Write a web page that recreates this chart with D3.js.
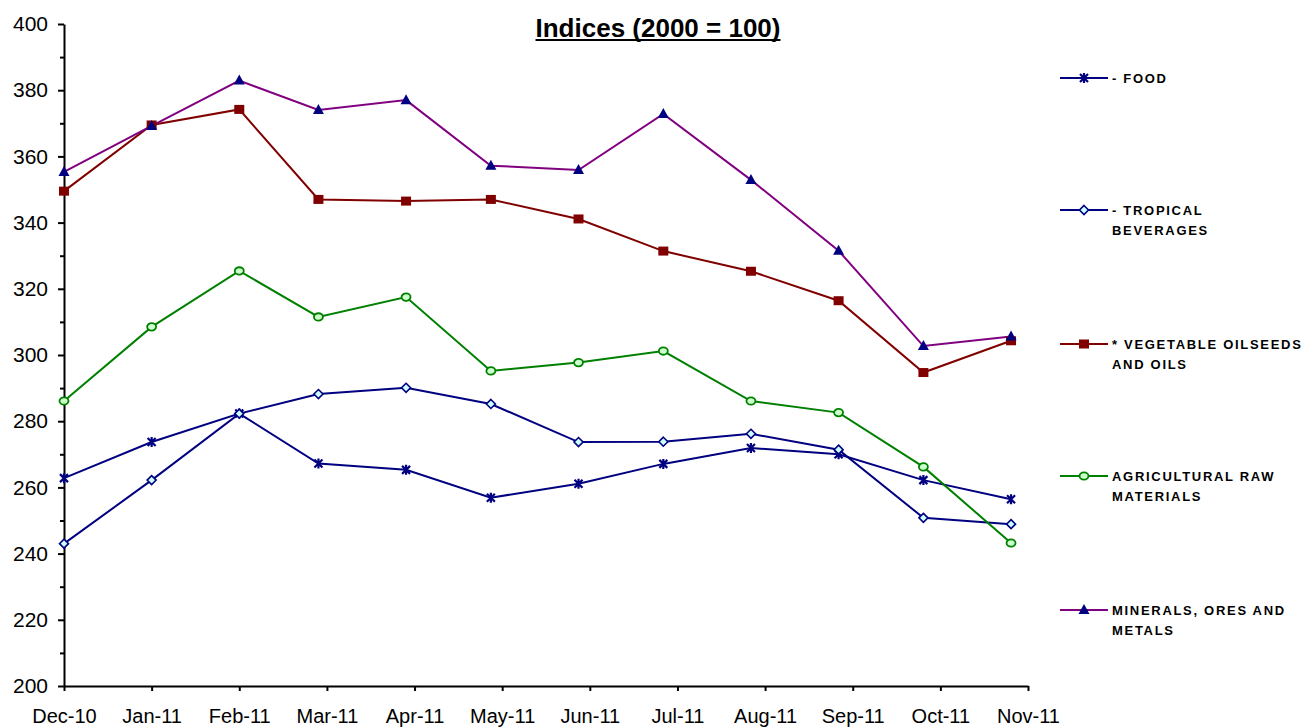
<!DOCTYPE html>
<html>
<head>
<meta charset="utf-8">
<script src="https://cdn.jsdelivr.net/npm/d3@7"></script>
<style>
  body { margin: 0; background: #fff; }
  text { font-family: Arial, "Liberation Sans", sans-serif; }
</style>
</head>
<body>
<script>
// monthly observations (first day of each month)
const months = ["2010-12-01", "2011-01-01", "2011-02-01", "2011-03-01", "2011-04-01", "2011-05-01",
  "2011-06-01", "2011-07-01", "2011-08-01", "2011-09-01", "2011-10-01", "2011-11-01"];

// axis labels, one every 31 days from Dec-10
const tickLabels = ["Dec-10", "Jan-11", "Feb-11", "Mar-11", "Apr-11", "May-11",
  "Jun-11", "Jul-11", "Aug-11", "Sep-11", "Oct-11", "Nov-11"];

const food      = [262.8, 273.7, 282.3, 267.2, 265.3, 256.9, 261.1, 267.1, 271.9, 270.0, 262.2, 256.4];
const tropical  = [243.0, 262.2, 282.3, 288.2, 290.1, 285.2, 273.7, 273.8, 276.2, 271.4, 250.8, 248.9];
const vegOils   = [349.5, 369.5, 374.2, 347.0, 346.5, 347.0, 341.1, 331.4, 325.3, 316.4, 294.7, 304.3];
const agriRaw   = [286.1, 308.5, 325.4, 311.5, 317.5, 295.2, 297.7, 301.2, 286.1, 282.6, 266.2, 243.2];
const minerals  = [355.3, 369.2, 382.9, 374.0, 377.0, 357.2, 355.9, 372.8, 352.9, 331.5, 302.7, 305.6];

const seriesNames = [["- FOOD"], ["- TROPICAL", "BEVERAGES"], ["* VEGETABLE OILSEEDS", "AND OILS"],
  ["AGRICULTURAL RAW", "MATERIALS"], ["MINERALS, ORES AND", "METALS"]];

const width = 1306, height = 728;
const margin = { top: 24, bottom: 42, left: 64, right: 278 };

const parseDate = d3.utcParse("%Y-%m-%d");
const dates = months.map(parseDate);
const start = dates[0];
const tickDates = d3.range(tickLabels.length).map(i => d3.utcDay.offset(start, 31 * i));

const escalaX = d3.scaleUtc()
  .domain([start, tickDates[tickDates.length - 1]])
  .range([margin.left, width - margin.right]);
const escalaY = d3.scaleLinear()
  .domain([200, 400])
  .range([height - margin.bottom, margin.top]);

const svg = d3.select("body")
  .append("svg")
  .attr("width", width)
  .attr("height", height);

// title
const titulo = svg.append("text")
  .attr("x", 658)
  .attr("y", 37)
  .attr("text-anchor", "middle")
  .attr("font-size", 26)
  .attr("font-weight", "bold")
  .text("Indices (2000 = 100)");
const tw = titulo.node().getComputedTextLength();
svg.append("line")
  .attr("x1", 658 - tw / 2).attr("x2", 658 + tw / 2)
  .attr("y1", 40).attr("y2", 40)
  .attr("stroke", "#000").attr("stroke-width", 2.2);

// axes
const ejeYMenor = d3.axisLeft(escalaY)
  .tickValues(d3.range(210, 400, 20))
  .tickSize(4).tickSizeOuter(0).tickFormat("");
svg.append("g")
  .attr("transform", "translate(" + margin.left + ",0)")
  .call(ejeYMenor)
  .call(g => g.select(".domain").remove())
  .call(g => g.selectAll("line").attr("stroke-width", 2));

const ejeY = d3.axisLeft(escalaY)
  .tickValues(d3.range(200, 401, 20))
  .tickSize(6).tickSizeOuter(0).tickPadding(10);
svg.append("g")
  .attr("transform", "translate(" + margin.left + ",0)")
  .call(ejeY)
  .call(g => g.select(".domain").attr("stroke-width", 2))
  .call(g => g.selectAll("line").attr("stroke-width", 2))
  .call(g => g.selectAll("text").attr("font-size", 21).attr("fill", "#000")
    .attr("font-family", "Arial, 'Liberation Sans', sans-serif"));

const ejeX = d3.axisBottom(escalaX)
  .tickValues(tickDates)
  .tickFormat((d, i) => tickLabels[i])
  .tickSize(5).tickSizeOuter(0).tickPadding(18);
svg.append("g")
  .attr("transform", "translate(0," + (height - margin.bottom) + ")")
  .call(ejeX)
  .call(g => g.select(".domain").attr("stroke-width", 2))
  .call(g => g.selectAll("line").attr("stroke-width", 2))
  .call(g => g.selectAll("text").attr("font-size", 20).attr("fill", "#000")
    .attr("font-family", "Arial, 'Liberation Sans', sans-serif"));

// markers
function marker(sel, tipo, color, relleno) {
  if (tipo === "star") {
    sel.append("path")
      .attr("d", "M-4,-4L4,4M-4,4L4,-4M0,-5L0,5")
      .attr("stroke", color).attr("stroke-width", 2.2).attr("fill", "none");
  } else if (tipo === "diamond") {
    sel.append("path")
      .attr("d", "M0,-4.5L4.5,0L0,4.5L-4.5,0Z")
      .attr("stroke", color).attr("stroke-width", 1.6).attr("fill", relleno);
  } else if (tipo === "square") {
    sel.append("rect")
      .attr("x", -5).attr("y", -4.5).attr("width", 10).attr("height", 9)
      .attr("fill", relleno);
  } else if (tipo === "circle") {
    sel.append("ellipse")
      .attr("rx", 4.5).attr("ry", 3.7)
      .attr("stroke", color).attr("stroke-width", 1.8).attr("fill", relleno);
  } else if (tipo === "triangle") {
    sel.append("path")
      .attr("d", "M0,-6L5.5,4L-5.5,4Z")
      .attr("fill", relleno);
  }
}

const series = [
  { valores: food, color: "#000080", tipo: "star", relleno: "none", mcolor: "#000080" },
  { valores: tropical, color: "#000080", tipo: "diamond", relleno: "#ccffff", mcolor: "#000080" },
  { valores: vegOils, color: "#800000", tipo: "square", relleno: "#800000", mcolor: "#800000" },
  { valores: agriRaw, color: "#008000", tipo: "circle", relleno: "#ccffcc", mcolor: "#008000" },
  { valores: minerals, color: "#800080", tipo: "triangle", relleno: "#000080", mcolor: "#000080" }
];

const linea = d3.line()
  .x((d, i) => escalaX(dates[i]))
  .y(d => escalaY(d));

series.forEach(s => {
  svg.append("path")
    .attr("d", linea(s.valores))
    .attr("fill", "none")
    .attr("stroke", s.color)
    .attr("stroke-width", 2);
});
series.forEach(s => {
  svg.append("g")
    .selectAll("g")
    .data(s.valores)
    .enter()
    .append("g")
    .attr("transform", (d, i) => "translate(" + escalaX(dates[i]) + "," + escalaY(d) + ")")
    .each(function () { marker(d3.select(this), s.tipo, s.mcolor, s.relleno); });
});

// legend
const legendY = [78, 210, 344, 476, 610];
series.forEach((s, k) => {
  const g = svg.append("g").attr("transform", "translate(1060," + legendY[k] + ")");
  g.append("line")
    .attr("x1", 0).attr("x2", 48)
    .attr("stroke", s.color).attr("stroke-width", 2);
  g.append("g").attr("transform", "translate(24,0)")
    .call(m => marker(m, s.tipo, s.mcolor, s.relleno));
  seriesNames[k].forEach((t, j) => {
    g.append("text")
      .attr("x", 52)
      .attr("y", j * 20)
      .attr("dy", "0.36em")
      .attr("font-size", 13)
      .attr("font-weight", "bold")
      .attr("letter-spacing", 1.7)
      .text(t);
  });
});
</script>
</body>
</html>
